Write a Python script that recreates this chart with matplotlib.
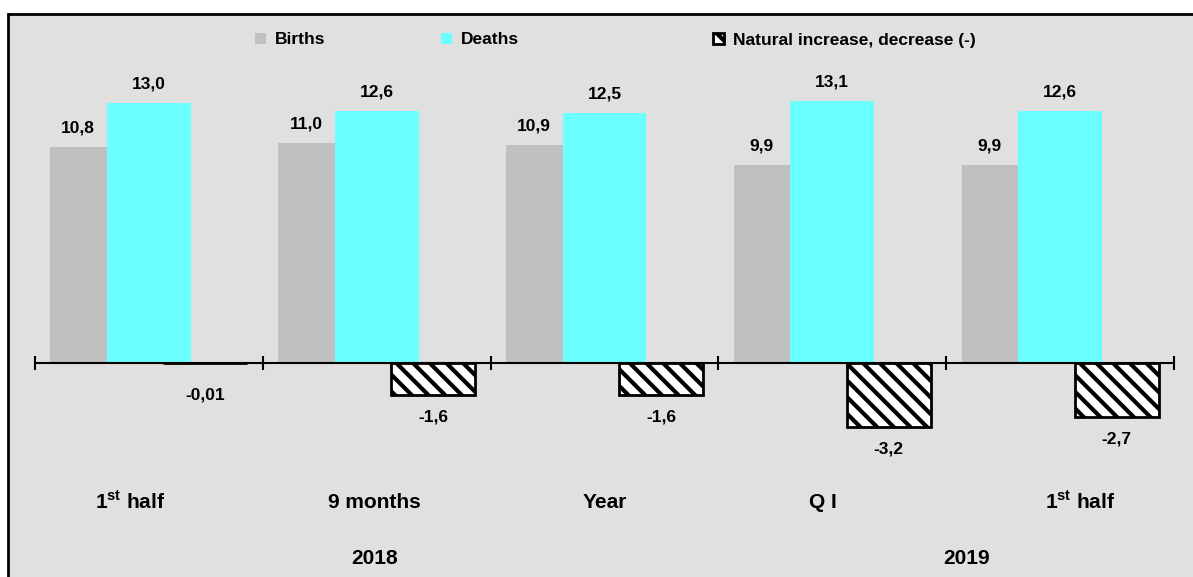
import matplotlib

matplotlib.use("Agg")
import matplotlib.pyplot as plt
from matplotlib.patches import Rectangle
import matplotlib.transforms as mtransforms
import numpy as np

periods = ["1$^{\\mathbf{st}}$ half", "9 months", "Year", "Q I", "1$^{\\mathbf{st}}$ half"]
years = ["2018", "2019"]
births = [10.8, 11.0, 10.9, 9.9, 9.9]
deaths = [13.0, 12.6, 12.5, 13.1, 12.6]
natural = [-0.01, -1.6, -1.6, -3.2, -2.7]
natural_labels = ["-0,01", "-1,6", "-1,6", "-3,2", "-2,7"]

plt.rcParams["font.family"] = ["Liberation Sans", "DejaVu Sans"]
plt.rcParams["font.weight"] = "bold"
plt.rcParams["mathtext.fontset"] = "custom"
plt.rcParams["mathtext.rm"] = "Liberation Sans:bold"
plt.rcParams["mathtext.bf"] = "Liberation Sans:bold"
plt.rcParams["hatch.linewidth"] = 3.0

W, H = 1193, 577
fig = plt.figure(figsize=(W / 100, H / 100), dpi=100)
fig.patch.set_facecolor("white")

# outer grey frame (right and bottom run off the image)
fig.patches.append(Rectangle((8 / W, -0.05), 1.1, 1 - 14 / H + 0.05,
                             transform=fig.transFigure, facecolor="#E0E0E0",
                             edgecolor="black", linewidth=2, zorder=-5))

ax = fig.add_axes([35 / W, (H - 463) / H, (1174 - 35) / W, 400 / H])
ax.set_facecolor("none")
ax.set_zorder(2)
ax.set_xlim(-0.5, 4.5)
ax.set_ylim(-5, 15)

x = np.arange(len(periods))
off = 0.248
bw = 0.368
ax.bar(x - off, births, bw, color="#C0C0C0", zorder=2, label="Births")
ax.bar(x, deaths, bw, color="#6BFFFF", zorder=3, label="Deaths")
ax.bar(x + off, natural, bw, color="white", edgecolor="black", hatch="\\\\",
       linewidth=2, zorder=5, label="Natural increase, decrease (-)")

for i in range(len(periods)):
    ax.annotate(f"{births[i]:.1f}".replace(".", ","), (x[i] - 0.31, births[i]),
                xytext=(0, 13.5), textcoords="offset points", ha="center",
                va="center", fontsize=12.5, fontweight="bold")
    ax.annotate(f"{deaths[i]:.1f}".replace(".", ","), (x[i], deaths[i]),
                xytext=(0, 13.5), textcoords="offset points", ha="center",
                va="center", fontsize=12.5, fontweight="bold")
    ax.annotate(natural_labels[i], (x[i] + off, min(natural[i], -0.5)),
                xytext=(0, -16), textcoords="offset points", ha="center",
                va="center", fontsize=12.5, fontweight="bold")

for s in ["left", "right", "top"]:
    ax.spines[s].set_visible(False)
ax.spines["bottom"].set_position(("data", 0))
ax.spines["bottom"].set_linewidth(1.5)
ax.spines["bottom"].set_zorder(4)
ax.set_xticks(np.arange(-0.5, 5, 1))
ax.set_xticklabels([])
ax.tick_params(axis="x", direction="inout", length=10, width=1.5)
ax.set_yticks([])

trans = mtransforms.blended_transform_factory(ax.transData, fig.transFigure)
label_shift = [-0.08, -0.01, 0.0, -0.04, 0.09]
for i, name in enumerate(periods):
    ax.text(x[i] + label_shift[i], 1 - 502 / H, name, transform=trans,
            ha="center", va="center", fontsize=15, fontweight="bold")
ax.text(1 - 0.01, 1 - 558 / H, years[0], transform=trans, ha="center",
        va="center", fontsize=15, fontweight="bold")
ax.text(3.59, 1 - 558 / H, years[1], transform=trans, ha="center",
        va="center", fontsize=15, fontweight="bold")

handles, labels = ax.get_legend_handles_labels()
legend_x = [255, 441, 713]
for h, lab, lx in zip(handles, labels, legend_x):
    leg = fig.legend([h], [lab], loc="center left",
                     bbox_to_anchor=(lx / W, 1 - 40 / H), frameon=False,
                     borderpad=0, borderaxespad=0, handlelength=0.65,
                     handleheight=0.65, handletextpad=0.5,
                     prop={"size": 12.5, "weight": "bold"})

fig.savefig("out.png", dpi=100)
